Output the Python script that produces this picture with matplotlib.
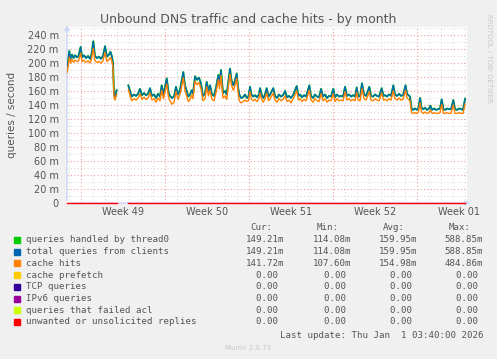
import numpy as np
import matplotlib.pyplot as plt
from matplotlib.patches import Rectangle

# days since Mon 1 Dec 2025 00:00, nan marks the data gap
days = [
    -1.14, -1.06, -0.95, -0.85, -0.72, -0.60, -0.47, -0.31, -0.18, 0.00,
    0.11, 0.27, 0.44, 0.61, 0.78, 0.90, 1.05, 1.19, 1.36, 1.52,
    1.69, 1.86, 2.03, 2.19, 2.36, 2.48, 2.61, 2.69, 2.78, 2.86,
    2.94, 3.00, 3.50, 3.97, 4.11, 4.25, 4.44, 4.61, 4.78, 4.94,
    5.11, 5.28, 5.44, 5.61, 5.78, 5.94, 6.11, 6.28, 6.44, 6.61,
    6.75, 6.90, 7.17, 7.32, 7.44, 7.61, 7.78, 7.94, 8.11, 8.28,
    8.55, 8.69, 8.97, 9.11, 9.25, 9.36, 9.53, 9.69, 9.86, 10.03,
    10.19, 10.36, 10.50, 10.65, 10.78, 10.94, 11.11, 11.28, 11.47, 11.57,
    11.69, 11.86, 12.03, 12.17, 12.28, 12.44, 12.57, 12.72, 12.86, 13.00,
    13.11, 13.22, 13.36, 13.53, 13.69, 13.86, 13.98, 14.11, 14.23, 14.38,
    14.53, 14.69, 14.86, 14.94, 15.11, 15.22, 15.36, 15.50, 15.65, 15.78,
    16.05, 16.19, 16.36, 16.52, 16.69, 16.86, 17.03, 17.19, 17.36, 17.52,
    17.69, 18.00, 18.15, 18.28, 18.44, 18.61, 18.78, 19.05, 19.19, 19.36,
    19.52, 19.69, 19.86, 20.03, 20.19, 20.36, 20.53, 20.69, 20.86, 21.05,
    21.19, 21.36, 21.53, 21.69, 21.86, 22.03, 22.19, 22.36, 22.53, 22.69,
    22.86, 23.00, 23.11, 23.28, 23.44, 23.61, 23.78, 24.05, 24.19, 24.36,
    24.53, 24.69, 24.86, 25.08, 25.23, 25.36, 25.53, 25.69, 25.86, 26.05,
    26.19, 26.36, 26.53, 26.69, 26.86, 27.07, 27.19, 27.32, 27.44, 27.57,
    27.69, 27.86, 28.03, 28.15, 28.28, 28.40, 28.53, 28.69, 28.86, 29.03,
    29.13, 29.28, 29.44, 29.61, 29.78, 29.94, 30.08, 30.23, 30.36, 30.53,
    30.69, 30.86, 31.05, 31.19, 31.36, 31.53, 31.69, 31.86, 32.03,
]

# total queries from clients (milli-queries / second); thread0 is identical
total_queries = [
    195, 200, 217, 206, 212, 207, 211, 208, 210, 223,
    208, 211, 207, 210, 206, 212, 231, 210, 207, 209,
    206, 210, 224, 209, 212, 216, 209, 200, 155, 152,
    158, 161, np.nan, 168, 160, 152, 155, 153, 156, 163,
    154, 157, 154, 156, 164, 153, 155, 150, 156, 152,
    168, 155, 178, 158, 153, 150, 152, 166, 155, 162,
    187, 168, 152, 155, 161, 156, 181, 176, 179, 170,
    153, 156, 173, 160, 168, 155, 153, 165, 183, 170,
    190, 157, 160, 155, 170, 192, 175, 168, 175, 185,
    165, 155, 150, 151, 155, 150, 152, 166, 155, 152,
    154, 151, 155, 164, 153, 150, 155, 164, 152, 155,
    164, 153, 150, 155, 152, 154, 160, 151, 153, 150,
    154, 167, 153, 155, 151, 154, 152, 168, 153, 150,
    155, 152, 151, 163, 152, 155, 150, 153, 152, 163,
    151, 155, 152, 153, 152, 166, 153, 155, 152, 154,
    152, 165, 153, 152, 171, 155, 153, 166, 153, 152,
    155, 153, 152, 164, 153, 154, 152, 155, 153, 168,
    155, 153, 156, 153, 154, 168, 156, 154, 152, 135,
    133, 135, 133, 136, 150, 136, 134, 136, 133, 135,
    139, 133, 135, 133, 134, 135, 148, 134, 133, 135,
    134, 134, 147, 134, 133, 135, 134, 133, 149,
]

cache_hits = [
    186, 193, 208, 200, 205, 201, 204, 202, 203, 214,
    202, 204, 201, 203, 200, 205, 221, 203, 201, 202,
    200, 203, 215, 202, 205, 208, 202, 193, 150, 147,
    152, 155, np.nan, 162, 154, 146, 149, 147, 150, 156,
    148, 151, 148, 150, 157, 147, 149, 144, 150, 146,
    161, 149, 170, 151, 146, 141, 144, 159, 148, 155,
    179, 161, 145, 148, 154, 149, 174, 169, 172, 163,
    146, 149, 166, 153, 161, 148, 146, 158, 176, 163,
    182, 150, 153, 148, 163, 184, 168, 161, 168, 178,
    158, 146, 143, 145, 147, 145, 146, 159, 148, 146,
    148, 145, 149, 157, 147, 144, 149, 157, 146, 149,
    157, 147, 144, 149, 146, 148, 153, 145, 147, 143,
    148, 160, 147, 149, 145, 148, 146, 161, 147, 144,
    149, 146, 145, 156, 146, 149, 144, 147, 146, 156,
    145, 149, 146, 147, 146, 159, 147, 149, 146, 148,
    146, 158, 147, 146, 163, 149, 147, 159, 147, 146,
    149, 147, 146, 157, 147, 148, 146, 149, 147, 160,
    149, 147, 150, 147, 148, 161, 150, 148, 146, 129,
    128, 129, 128, 130, 143, 130, 128, 130, 128, 129,
    133, 128, 129, 128, 128, 129, 141, 128, 128, 129,
    128, 128, 140, 128, 128, 129, 128, 128, 141,
]

labels = ["queries handled by thread0", "total queries from clients", "cache hits",
          "cache prefetch", "TCP queries", "IPv6 queries",
          "queries that failed acl", "unwanted or unsolicited replies"]
colors = ["#00CC00", "#0066B3", "#FF8000", "#FFCC00", "#330099", "#990099",
          "#CCFF00", "#FF0000"]
cur = ["149.21m", "149.21m", "141.72m", "0.00 ", "0.00 ", "0.00 ", "0.00 ", "0.00 "]
mins = ["114.08m", "114.08m", "107.60m", "0.00 ", "0.00 ", "0.00 ", "0.00 ", "0.00 "]
avgs = ["159.95m", "159.95m", "154.98m", "0.00 ", "0.00 ", "0.00 ", "0.00 ", "0.00 "]
maxs = ["588.85m", "588.85m", "484.86m", "0.00 ", "0.00 ", "0.00 ", "0.00 ", "0.00 "]

week_labels = ["Week 49", "Week 50", "Week 51", "Week 52", "Week 01"]
week_starts = [0, 7, 14, 21, 28]

W, H = 497, 359
fig = plt.figure(figsize=(W / 100, H / 100), dpi=100, facecolor="#F0F0F0")
ax = fig.add_axes([67 / W, 1 - 203 / H, 400 / W, 176 / H])
ax.set_facecolor("white")

x0, x1 = -1.14, 32.19
ax.set_xlim(x0, x1)
ax.set_ylim(0, 251.4)

# grid: minor gray, major pinkish, both dotted
for d in np.arange(-1, 33):
    if d % 7 != 0:
        ax.axvline(d, color="#DDDDDD", lw=0.8, ls=(0, (1, 2)), zorder=1)
for v in range(10, 251, 20):
    ax.axhline(v, color="#DDDDDD", lw=0.8, ls=(0, (1, 2)), zorder=1)
for d in week_starts:
    ax.axvline(d, color="#F0A0A0", lw=0.8, ls=(0, (1, 2)), zorder=2)
for v in range(20, 241, 20):
    ax.axhline(v, color="#F0A0A0", lw=0.8, ls=(0, (1, 2)), zorder=2)

days_a = np.array(days)
tq = np.array(total_queries, dtype=float)
ch = np.array(cache_hits, dtype=float)
zeros = np.where(np.isnan(tq), np.nan, 0.0)

# axis lines with arrows, underneath the series
ax.annotate("", xy=(x1 + 0.5, 0), xytext=(x0, 0), xycoords="data",
            arrowprops=dict(arrowstyle="-|>", color="#CCD6F6", lw=1.0,
                            mutation_scale=7), annotation_clip=False, zorder=0)
ax.annotate("", xy=(x0, 258), xytext=(x0, 0), xycoords="data",
            arrowprops=dict(arrowstyle="-|>", color="#CCD6F6", lw=1.0,
                            mutation_scale=7), annotation_clip=False)

ax.plot(days_a, tq, color=colors[0], lw=1.4, zorder=3)
ax.plot(days_a, tq, color=colors[1], lw=1.0, zorder=4)
ax.plot(days_a, ch, color=colors[2], lw=1.0, zorder=5)
for c in colors[3:-1]:
    ax.plot(days_a, zeros, color=c, lw=0.5, zorder=6)
ax.plot(days_a, zeros, color=colors[-1], lw=1.0, zorder=7, clip_on=False)

for s in ax.spines.values():
    s.set_visible(False)

ax.set_yticks(range(0, 241, 20))
ax.set_yticklabels(["0"] + [f"{v} m" for v in range(20, 241, 20)])
ax.set_xticks([d + 3.5 for d in week_starts])
ax.set_xticklabels(week_labels)
ax.tick_params(length=0, labelsize=7, colors="#555555", pad=3)
ax.tick_params(axis="y", pad=6)

fig.text(248 / W, 1 - 19 / H, "Unbound DNS traffic and cache hits - by month",
         ha="center", va="center", fontsize=9, color="#555555")
fig.text(12 / W, 1 - 115 / H, "queries / second", rotation=90, ha="center",
         va="center", fontsize=7.5, color="#555555")
fig.text(489 / W, 1 - 58 / H, "RRDTOOL / TOBI OETIKER", rotation=270,
         ha="center", va="center", fontsize=5, color="#C8C8C8")

mono = "DejaVu Sans Mono"
fs = 6.6
col_right = [284, 351, 417, 483]
for xr, head in zip(col_right, ["Cur:", "Min:", "Avg:", "Max:"]):
    fig.text((xr - 12) / W, 1 - 228 / H, head, ha="right", va="center",
             family=mono, fontsize=fs, color="#555555")
for i, lab in enumerate(labels):
    yy = 240 + 12 * i - 0.3 * i
    fig.patches.append(Rectangle((14 / W, 1 - (yy + 3) / H), 6 / W, 6 / H,
                                 transform=fig.transFigure, color=colors[i]))
    fig.text(26 / W, 1 - yy / H, lab, ha="left", va="center", family=mono,
             fontsize=fs, color="#555555")
    for xr, vals in zip(col_right, [cur, mins, avgs, maxs]):
        fig.text(xr / W, 1 - yy / H, vals[i], ha="right", va="center",
                 family=mono, fontsize=fs, color="#555555")
fig.text(483 / W, 1 - 336 / H, "Last update: Thu Jan  1 03:40:00 2026",
         ha="right", va="center", family=mono, fontsize=fs, color="#555555")
fig.text(248 / W, 1 - 348 / H, "Munin 2.0.73", ha="center", va="center",
         fontsize=5, color="#C8C8C8")

fig.savefig("out.png", dpi=100, facecolor=fig.get_facecolor())
